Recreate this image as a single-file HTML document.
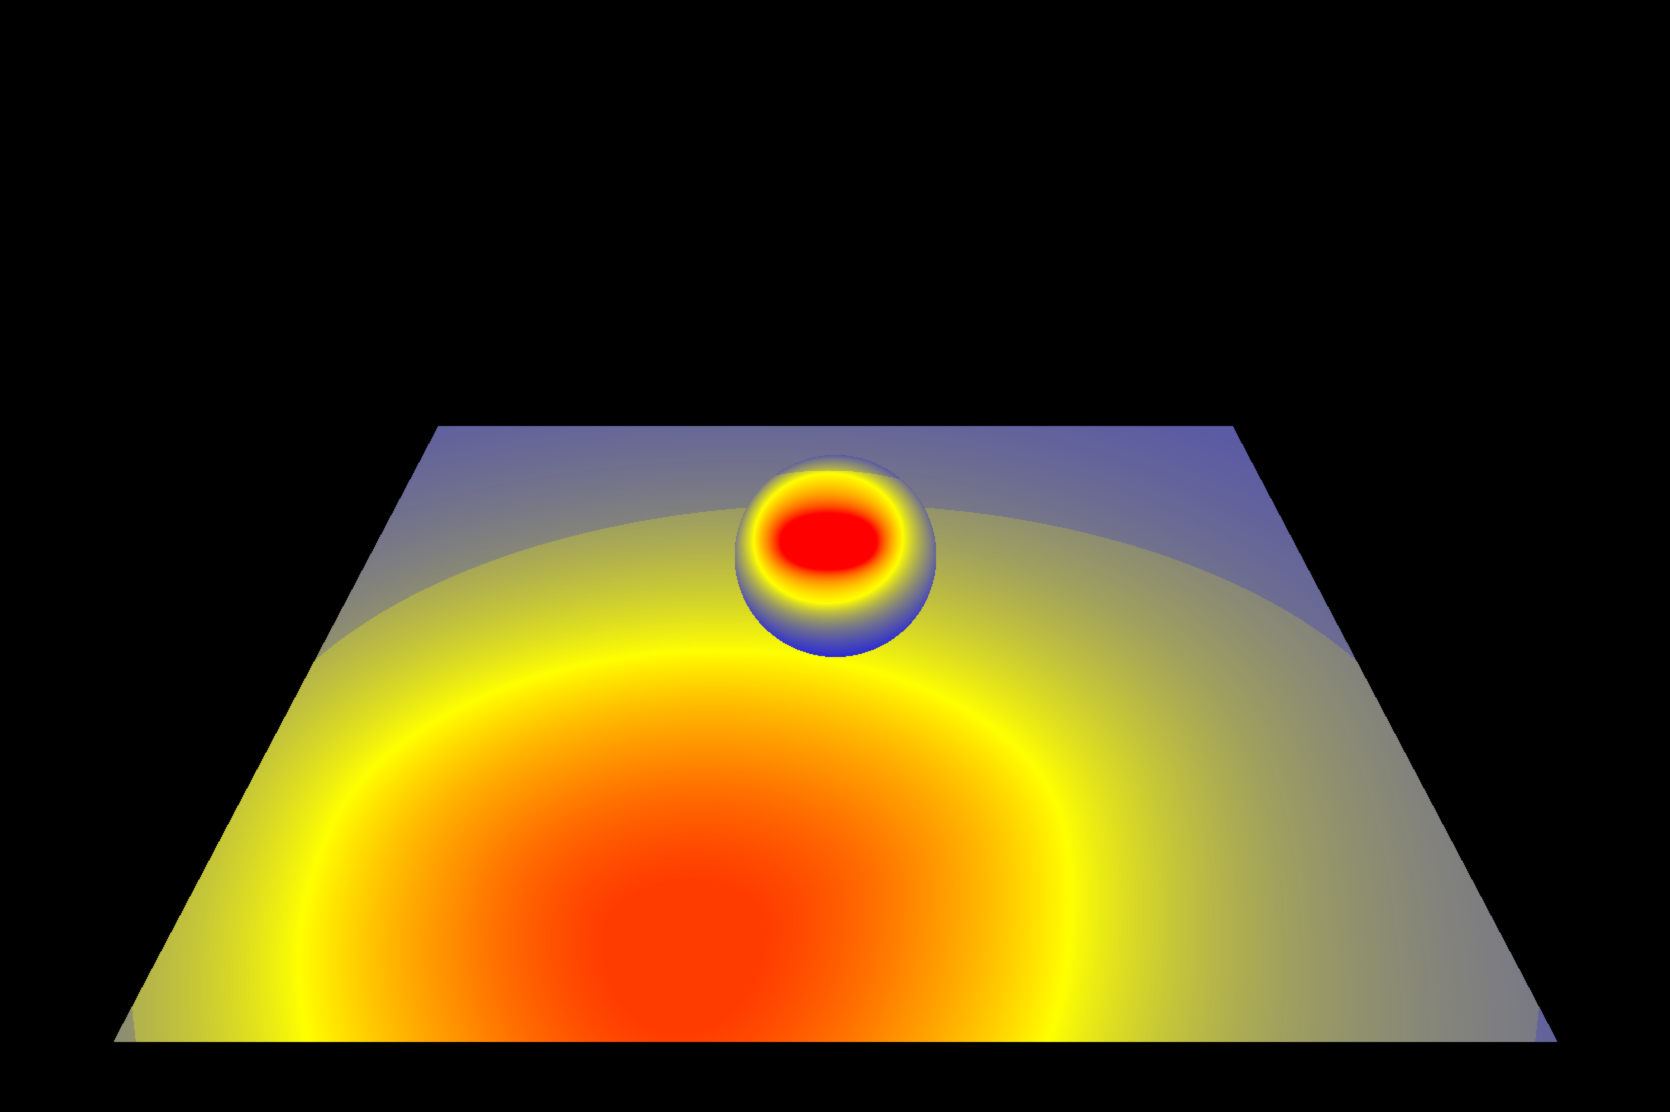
<!DOCTYPE html>
<html lang="en">
<head>
<meta charset="utf-8">
<title>Heat field on plane and sphere</title>
<style>
  html, body { margin: 0; padding: 0; background: #000; }
  #scene { position: relative; width: 1670px; height: 1112px; background: #000; overflow: hidden; }
  canvas { position: absolute; left: 0; top: 0; display: block; }
</style>
</head>
<body>
<div id="scene">
  <canvas id="plane" width="1670" height="1112"></canvas>
  <canvas id="sphere" width="1670" height="1112"></canvas>
</div>
<script>
// Colormap: blue -> yellow -> red
const colormapStops = [0, 1, 2];
const colormapReds = [0, 255, 255];
const colormapGreens = [0, 255, 0];
const colormapBlues = [255, 0, 0];

function colorAt(t) {
  const v = Math.max(colormapStops[0], Math.min(colormapStops[2], t));
  const i = v < colormapStops[1] ? 0 : 1;
  const f = (v - colormapStops[i]) / (colormapStops[i + 1] - colormapStops[i]);
  return [
    colormapReds[i] + (colormapReds[i + 1] - colormapReds[i]) * f,
    colormapGreens[i] + (colormapGreens[i + 1] - colormapGreens[i]) * f,
    colormapBlues[i] + (colormapBlues[i + 1] - colormapBlues[i]) * f
  ];
}

function put(data, x, y, width, c) {
  const o = (y * width + x) * 4;
  data[o] = c[0];
  data[o + 1] = c[1];
  data[o + 2] = c[2];
  data[o + 3] = 255;
}

// Level function on the plane: non-concentric contours around the hot spot.
function contourValue(rho, U, Q) {
  let qc, b;
  if (rho <= 1) {
    qc = 0.78 + 0.085 * rho;
    b = Q > qc ? 0.159 * rho : rho * (0.32 - 0.065 * rho);
  } else {
    qc = 0.865 + 0.11 * (rho - 1);
    b = Q > qc ? 0.159 * rho : 0.255 * rho;
  }
  const a = U / rho, c = (Q - qc) / b;
  return a * a + c * c;
}

function solveLevel(U, Q) {
  let lo = 0.001, hi = 8;
  for (let i = 0; i < 22; i++) {
    const mid = (lo + hi) / 2;
    if (contourValue(mid, U, Q) > 1) lo = mid; else hi = mid;
  }
  return (lo + hi) / 2;
}

function drawPlane() {
  const ctx = document.getElementById('plane').getContext('2d');
  const W = 1670, H = 1112;
  const img = ctx.createImageData(W, H);
  const cx = 835, topY = 426, botY = 1042, horizon = -326.5, slope = 0.5276, focal = 1129;
  for (let y = topY; y < botY; y++) {
    const depth = y - horizon;
    const half = depth * slope + 0.5;
    const Z = focal / depth;
    const Q = 1000 / depth;
    const centerX = -0.12 + 0.07 * Math.max(0, 0.8 - Q);
    for (let x = Math.ceil(cx - half); x <= cx + half; x++) {
      const X = (x - cx) / depth;
      const U = (X - centerX) / 0.318;
      const rho = solveLevel(U, Q);
      let t;
      if (rho < 1) {
        t = 1 + 0.76 * (1 - Math.pow(rho, 1.7)) + 0.08 * Math.max(0, 1 - rho / 0.6);
        t = Math.min(t, 1.765);
      } else {
        t = 1 / rho + 0.05 * Math.max(0, rho - 1.6);
      }
      const limX = 0.55 - (Z < 0.85 ? 0.02 + (0.85 - Z) * 0.75 : 0);
      let inside = Math.abs(X) < limX;
      if (inside && Z > 1.06) {
        const q = 1 - (X / 0.55) * (X / 0.55);
        inside = Z < 1.06 + 0.30 * Math.sqrt(Math.max(0, q));
      }
      if (!inside) t *= 0.82;
      put(img.data, x, y, W, colorAt(t));
    }
  }
  ctx.putImageData(img, 0, 0);
}

function drawSphere() {
  const ctx = document.getElementById('sphere').getContext('2d');
  const W = 1670, H = 1112;
  const img = ctx.createImageData(W, H);
  const cx = 835, cy = 555.5, r = 101;
  const a0x = -6.2 * Math.PI / 180, a0y = -13.5 * Math.PI / 180;
  const rx = 48.5 * Math.PI / 180, ry = 41.5 * Math.PI / 180;
  for (let y = Math.floor(cy - r); y <= cy + r; y++) {
    for (let x = Math.floor(cx - r); x <= cx + r; x++) {
      const nx = (x - cx) / r, ny = (y - cy) / r;
      const rho = Math.sqrt(nx * nx + ny * ny);
      if (rho > 1) continue;
      const th = Math.asin(rho);
      const k = rho > 1e-6 ? th / rho : 1;
      const ex = (nx * k - a0x) / rx, ey = (ny * k - a0y) / ry;
      const d = Math.sqrt(ex * ex + ey * ey);
      let t;
      if (d >= 1) {
        const down = ey > 0 ? ey / d : 0;
        t = Math.pow(d, -(1.5 + 0.6 * down * down));
      } else {
        const bx = Math.abs(x - 828) / 48, by = Math.abs(y - 541) / 28;
        const a = Math.pow(Math.pow(bx, 2.2) + Math.pow(by, 2.2), 1 / 2.2);
        if (a <= 1) {
          t = 2;
        } else {
          t = 2 - (a - 1) / ((a - 1) + (1 - d) + 1e-6);
        }
      }
      const cut = 470 + 0.0017 * (x - 828) * (x - 828);
      if (y < cut) t *= 0.82;
      put(img.data, x, y, W, colorAt(t));
    }
  }
  ctx.putImageData(img, 0, 0);
}

drawPlane();
drawSphere();
</script>
</body>
</html>
